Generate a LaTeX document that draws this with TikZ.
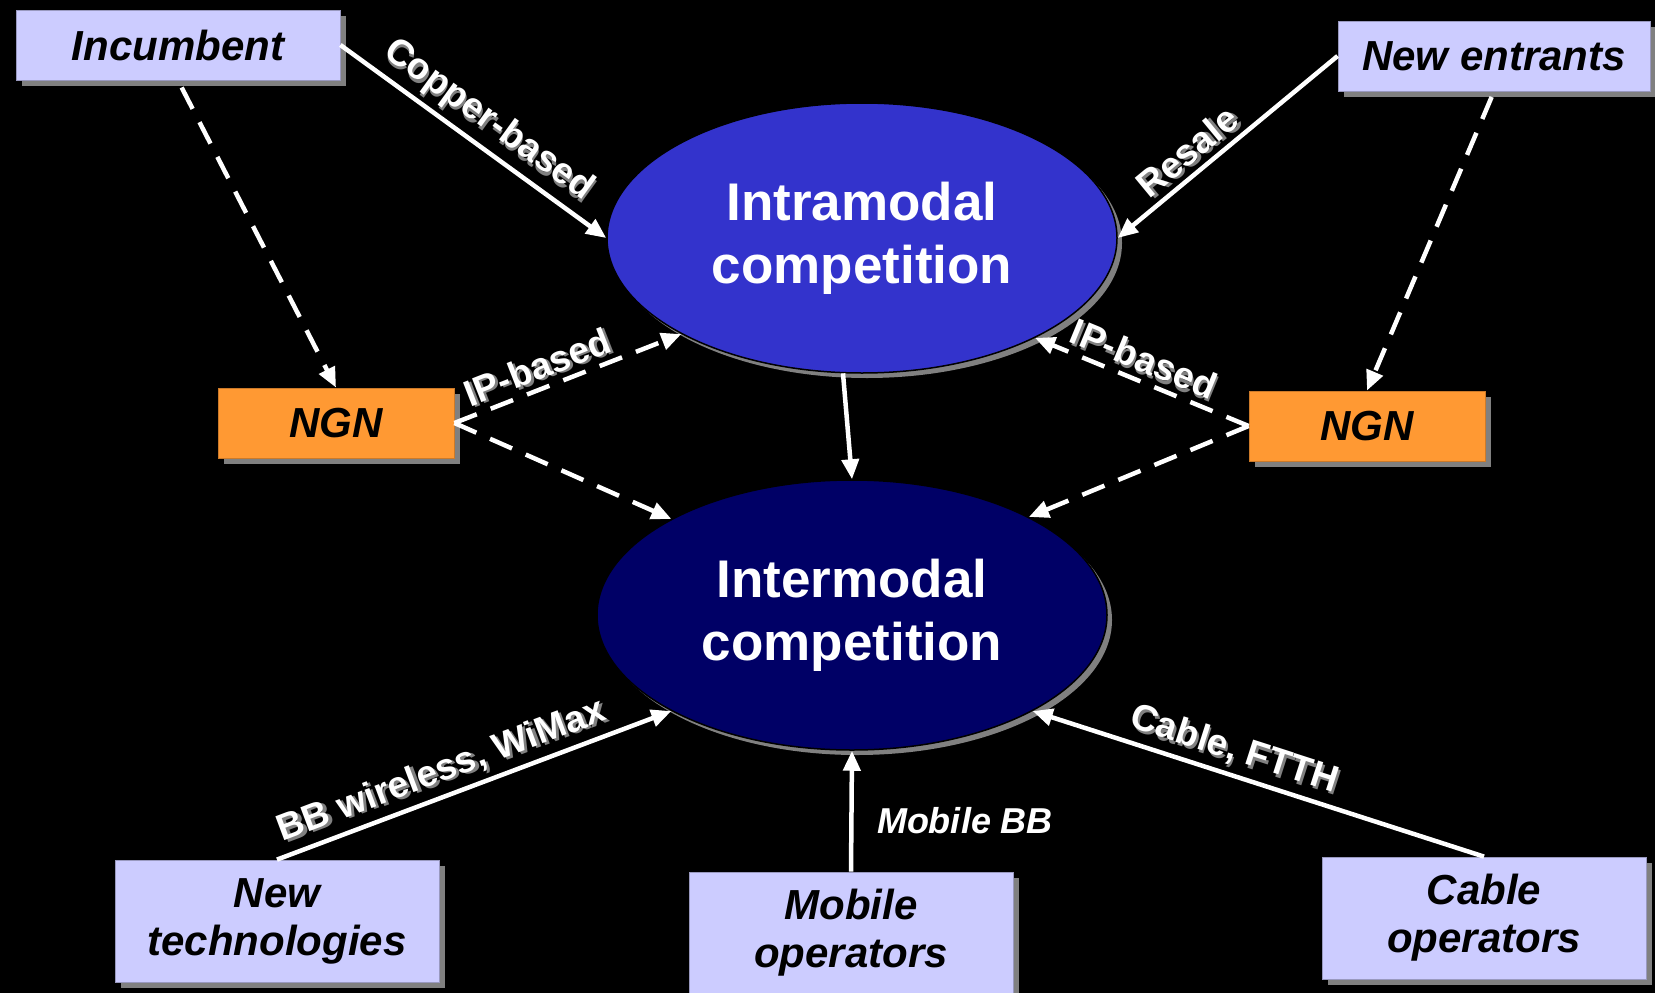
\documentclass[tikz,border=0pt]{standalone}
\usepackage{fontspec}
\setmainfont{Liberation Sans}
\usetikzlibrary{arrows.meta, shapes.geometric, shadows}
\definecolor{lavender}{HTML}{CCCCFF}
\definecolor{ngnorange}{HTML}{FF9933}
\definecolor{intrablue}{HTML}{3333CC}
\definecolor{interblue}{HTML}{000066}
\definecolor{shadowgray}{HTML}{808080}
\newcommand{\shad}[1]{\makebox[0pt][l]{\kern2.5pt\raisebox{-2.5pt}{\textcolor{shadowgray}{#1}}}#1}
\tikzset{
    block_lav/.style={rectangle, draw=lavender!75!black, line width=0.8pt, fill=lavender, minimum width=324pt, align=center, inner sep=0pt, font=\bfseries\itshape\fontsize{42}{48}\selectfont, drop shadow={shadow xshift=6pt, shadow yshift=-6pt, fill=shadowgray, opacity=1}},
    block_orange/.style={rectangle, draw=ngnorange!80!black, line width=0.8pt, fill=ngnorange, minimum width=236pt, minimum height=70pt, inner sep=0pt, font=\bfseries\itshape\fontsize{42}{48}\selectfont, drop shadow={shadow xshift=6pt, shadow yshift=-6pt, fill=shadowgray, opacity=1}},
    oval/.style={ellipse, draw=black, line width=1.5pt, minimum width=510pt, minimum height=270pt, inner sep=0pt, text=white, align=center, font=\bfseries\fontsize{53}{63}\selectfont, drop shadow={shadow xshift=5pt, shadow yshift=-5pt, fill=shadowgray, opacity=1}},
    arrow/.style={-{Triangle[length=20pt,width=17pt]}, line width=4.5pt, white},
    dasharrow/.style={arrow, dash pattern=on 24pt off 15pt},
    lbl/.style={text=white, font=\bfseries\fontsize{37}{41}\selectfont, sloped, inner sep=4pt}
}

\begin{document}
\begin{tikzpicture}[x=1pt, y=-1pt]
    \useasboundingbox (0,0) rectangle (1655,993);
    \fill[black] (0,0) rectangle (1655,993);

    \node (intra) [oval, fill=intrablue] at (862,238) {Intramodal\\competition};
    \node (inter) [oval, fill=interblue] at (852,615) {Intermodal\\competition};

    \node (incumbent) [block_lav, minimum height=70pt] at (178,45) {Incumbent};
    \node (entrants) [block_lav, minimum width=312pt, minimum height=70pt] at (1494,56) {New entrants};
    \node (ngnL) [block_orange] at (336,423) {NGN};
    \node (ngnR) [block_orange] at (1367,426) {NGN};
    \node (newtech) [block_lav, minimum height=122pt] at (277,921) {New\\technologies};
    \node (mobile) [block_lav, minimum height=122pt] at (851,933) {Mobile\\operators};
    \node (cable) [block_lav, minimum height=122pt] at (1484,918) {Cable\\operators};

    \draw [arrow] (incumbent.east) -- node[lbl, above] {\shad{Copper-based}} (intra.west);
    \draw [arrow] (entrants.west) -- node[lbl, above, pos=0.62] {\shad{Resale}} (intra.east);
    \draw [dasharrow, shorten <=8pt] (incumbent.south) -- (ngnL.north);
    \draw [dasharrow, shorten <=6pt] (entrants.south) -- (ngnR.north);
    \draw [dasharrow] (ngnL.east) -- node[lbl, above, pos=0.4] {\shad{IP-based}} (intra.208);
    \draw [dasharrow] (ngnL.east) -- (inter.152);
    \draw [dasharrow] (ngnR.west) -- node[lbl, above, pos=0.53] {\shad{IP-based}} (intra.330);
    \draw [dasharrow] (ngnR.west) -- (inter.29);
    \draw [arrow] (intra.262) -- (inter.north);
    \draw [arrow] (newtech.north) -- node[lbl, above, pos=0.44] {\shad{BB wireless, WiMax}} (inter.208);
    \draw [arrow] (mobile.north) -- node[right=20pt, pos=0.42, text=white, font=\bfseries\itshape\fontsize{36}{40}\selectfont] {Mobile BB} (inter.south);
    \draw [arrow] (cable.north) -- node[lbl, above, pos=0.57] {\shad{Cable, FTTH}} (inter.332);
\end{tikzpicture}
\end{document}
